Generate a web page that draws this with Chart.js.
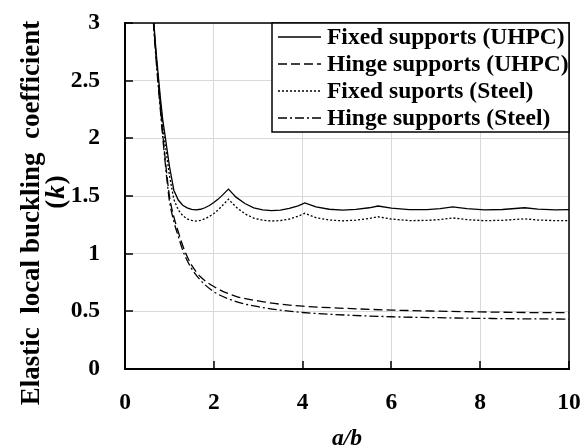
<!DOCTYPE html>
<html>
<head>
<meta charset="utf-8">
<script src="https://cdn.jsdelivr.net/npm/chart.js@4.4.1/dist/chart.umd.min.js"></script>
<style>
  html, body { margin: 0; padding: 0; background: #fff; }
</style>
</head>
<body>
<canvas id="chart" width="582" height="447"></canvas>
<script>
// a/b values for the fixed-support curves (cusps at the mode changes)
const fixedX = [0.6, 0.65, 0.7, 0.76, 0.8, 0.85, 0.9, 1.0, 1.1, 1.2, 1.3, 1.4, 1.5, 1.6, 1.7, 1.8, 1.9, 2.0, 2.1, 2.2, 2.33,
  2.5, 2.7, 2.9, 3.1, 3.3, 3.5, 3.7, 3.9, 4.05, 4.3, 4.6, 4.9, 5.2, 5.5, 5.7, 6.0, 6.4, 6.8, 7.1, 7.38, 7.7, 8.1, 8.5, 9.0, 9.3, 9.7, 10];
const fixedUhpc = [3.45, 3.0, 2.75, 2.5, 2.34, 2.16, 2.03, 1.76, 1.55, 1.465, 1.42, 1.397, 1.384, 1.38, 1.385, 1.398, 1.418, 1.443, 1.473, 1.51, 1.56,
  1.49, 1.435, 1.398, 1.38, 1.374, 1.378, 1.392, 1.415, 1.44, 1.405, 1.385, 1.378, 1.384, 1.398, 1.413, 1.394, 1.381, 1.382, 1.39, 1.405, 1.39, 1.38, 1.383, 1.398, 1.387, 1.38, 1.381];
const fixedSteel = [3.4, 2.96, 2.71, 2.46, 2.29, 2.1, 1.96, 1.68, 1.47, 1.38, 1.33, 1.302, 1.288, 1.283, 1.288, 1.302, 1.322, 1.348, 1.38, 1.42, 1.472,
  1.405, 1.345, 1.308, 1.29, 1.283, 1.287, 1.3, 1.325, 1.35, 1.312, 1.292, 1.285, 1.29, 1.305, 1.32, 1.3, 1.287, 1.288, 1.296, 1.31, 1.295, 1.286, 1.289, 1.302, 1.292, 1.286, 1.286];

// a/b values for the hinge-support curves
const hingeX = [0.6, 0.65, 0.7, 0.76, 0.8, 0.85, 0.9, 0.95, 1.0, 1.1, 1.2, 1.3, 1.4, 1.5, 1.7, 2.0, 2.5, 3.0, 3.5, 4.0, 5.0, 6.0, 7.0, 8.0, 9.0, 10];
const hingeUhpc = [3.35, 2.98, 2.72, 2.44, 2.27, 2.04, 1.84, 1.66, 1.5, 1.32, 1.19, 1.07, 0.975, 0.9, 0.8, 0.715, 0.63, 0.59, 0.562, 0.545, 0.525, 0.511, 0.502, 0.495, 0.49, 0.488];
const hingeSteel = [3.3, 2.94, 2.68, 2.4, 2.23, 2.01, 1.81, 1.62, 1.46, 1.28, 1.15, 1.03, 0.94, 0.87, 0.77, 0.67, 0.585, 0.54, 0.51, 0.49, 0.467, 0.453, 0.445, 0.439, 0.435, 0.433];

const seriesNames = ['Fixed supports (UHPC)', 'Hinge supports (UHPC)', 'Fixed suports (Steel)', 'Hinge supports (Steel)'];
const xTitle = 'a/b';
const yTitleText = 'Elastic  local buckling  coefficient';

const FONT = "'Liberation Serif', 'Times New Roman', serif";
const FS = 23.5;
const TITLE_FS = 27;

function toPoints(xs, ys) {
  return xs.map((x, i) => ({ x: x, y: ys[i] }));
}

// short tick marks pointing into the plot, plus top/right frame
const frameAndTicks = {
  id: 'frameAndTicks',
  afterDatasetsDraw(chart) {
    const { ctx, chartArea: a, scales: { x, y } } = chart;
    ctx.save();
    ctx.strokeStyle = '#000';
    ctx.lineWidth = 1.5;
    ctx.beginPath();
    x.ticks.forEach(t => {
      const px = Math.round(x.getPixelForValue(t.value));
      ctx.moveTo(px, a.bottom);
      ctx.lineTo(px, a.bottom - 8);
    });
    y.ticks.forEach(t => {
      const py = Math.round(y.getPixelForValue(t.value));
      ctx.moveTo(a.left, py);
      ctx.lineTo(a.left + 8, py);
    });
    ctx.stroke();
    ctx.beginPath();
    ctx.moveTo(a.left, a.top);
    ctx.lineTo(a.right, a.top);
    ctx.lineTo(a.right, a.bottom);
    ctx.stroke();
    ctx.restore();
  }
};

// legend in a framed box at the top-right corner of the plot
const boxedLegend = {
  id: 'boxedLegend',
  afterDraw(chart) {
    const { ctx, chartArea: a } = chart;
    const w = 297, h = 109;
    const left = a.right - w, top = a.top;
    ctx.save();
    ctx.fillStyle = '#fff';
    ctx.fillRect(left, top, w, h);
    ctx.strokeStyle = '#000';
    ctx.lineWidth = 1.5;
    ctx.strokeRect(left, top, w, h);
    ctx.font = `bold ${FS}px ${FONT}`;
    ctx.textBaseline = 'middle';
    ctx.fillStyle = '#000';
    chart.data.datasets.forEach((ds, i) => {
      const cy = top + 14 + i * 27;
      ctx.setLineDash(ds.borderDash || []);
      ctx.lineWidth = ds.borderWidth;
      ctx.beginPath();
      ctx.moveTo(left + 6, cy);
      ctx.lineTo(left + 49, cy);
      ctx.stroke();
      ctx.setLineDash([]);
      ctx.fillText(ds.label, left + 55, cy + 1);
    });
    ctx.restore();
  }
};

// rotated two-line y title, with the k in italics
const yTitle = {
  id: 'yTitle',
  afterDraw(chart) {
    const { ctx, chartArea: a } = chart;
    const mid = (a.top + a.bottom) / 2;
    const bold = `bold ${TITLE_FS}px ${FONT}`;
    const ital = `italic bold ${TITLE_FS}px ${FONT}`;
    ctx.save();
    ctx.fillStyle = '#000';
    ctx.textBaseline = 'middle';
    ctx.translate(32, mid + 17);
    ctx.rotate(-Math.PI / 2);
    ctx.font = bold;
    ctx.textAlign = 'center';
    ctx.fillText(yTitleText, 0, 0);
    ctx.restore();

    ctx.save();
    ctx.fillStyle = '#000';
    ctx.textBaseline = 'middle';
    ctx.translate(57, mid - 4);
    ctx.rotate(-Math.PI / 2);
    ctx.font = bold;
    const wp = ctx.measureText('(').width;
    const wc = ctx.measureText(')').width;
    ctx.font = ital;
    const wk = ctx.measureText('k').width;
    let sx = -(wp + wk + wc + 2) / 2;
    ctx.textAlign = 'left';
    ctx.font = bold;
    ctx.fillText('(', sx, 0);
    sx += wp + 1;
    ctx.font = ital;
    ctx.fillText('k', sx, 0);
    sx += wk + 1;
    ctx.font = bold;
    ctx.fillText(')', sx, 0);
    ctx.restore();
  }
};

const line = (label, data, dash, smooth) => ({
  label: label,
  data: data,
  borderColor: '#000',
  borderWidth: 1.3,
  borderDash: dash,
  pointRadius: 0,
  fill: false,
  tension: 0,
  cubicInterpolationMode: smooth ? 'monotone' : 'default'
});

const tickFont = { family: FONT, size: FS, weight: 'bold' };

new Chart(document.getElementById('chart').getContext('2d'), {
  type: 'line',
  data: {
    datasets: [
      line(seriesNames[0], toPoints(fixedX, fixedUhpc), [], false),
      line(seriesNames[1], toPoints(hingeX, hingeUhpc), [9, 4], true),
      line(seriesNames[2], toPoints(fixedX, fixedSteel), [2, 2], false),
      line(seriesNames[3], toPoints(hingeX, hingeSteel), [9, 3, 2, 3], true)
    ]
  },
  options: {
    responsive: false,
    animation: false,
    layout: { padding: { top: 23, right: 13, left: 0, bottom: 0 } },
    plugins: { legend: { display: false }, tooltip: { enabled: false } },
    scales: {
      x: {
        type: 'linear',
        min: 0,
        max: 10,
        ticks: { stepSize: 2, padding: 20, color: '#000', font: tickFont, callback: v => String(v) },
        grid: { color: '#d9d9d9', drawTicks: false },
        border: { color: '#000', width: 2 },
        title: {
          display: true,
          text: xTitle,
          color: '#000',
          padding: 0,
          font: { family: FONT, size: FS, weight: 'bold', style: 'italic', lineHeight: 0.7 }
        },
        afterFit(s) {
          s.height = 78;
          s.paddingLeft = 0;
          s.paddingRight = 0;
        }
      },
      y: {
        type: 'linear',
        min: 0,
        max: 3,
        ticks: { stepSize: 0.5, padding: 25, color: '#000', font: tickFont, callback: v => String(v) },
        grid: { color: '#d9d9d9', drawTicks: false },
        border: { color: '#000', width: 2 },
        afterFit(s) {
          s.width = 125;
          s.paddingTop = 0;
          s.paddingBottom = 0;
        }
      }
    }
  },
  plugins: [frameAndTicks, boxedLegend, yTitle]
});
</script>
</body>
</html>
